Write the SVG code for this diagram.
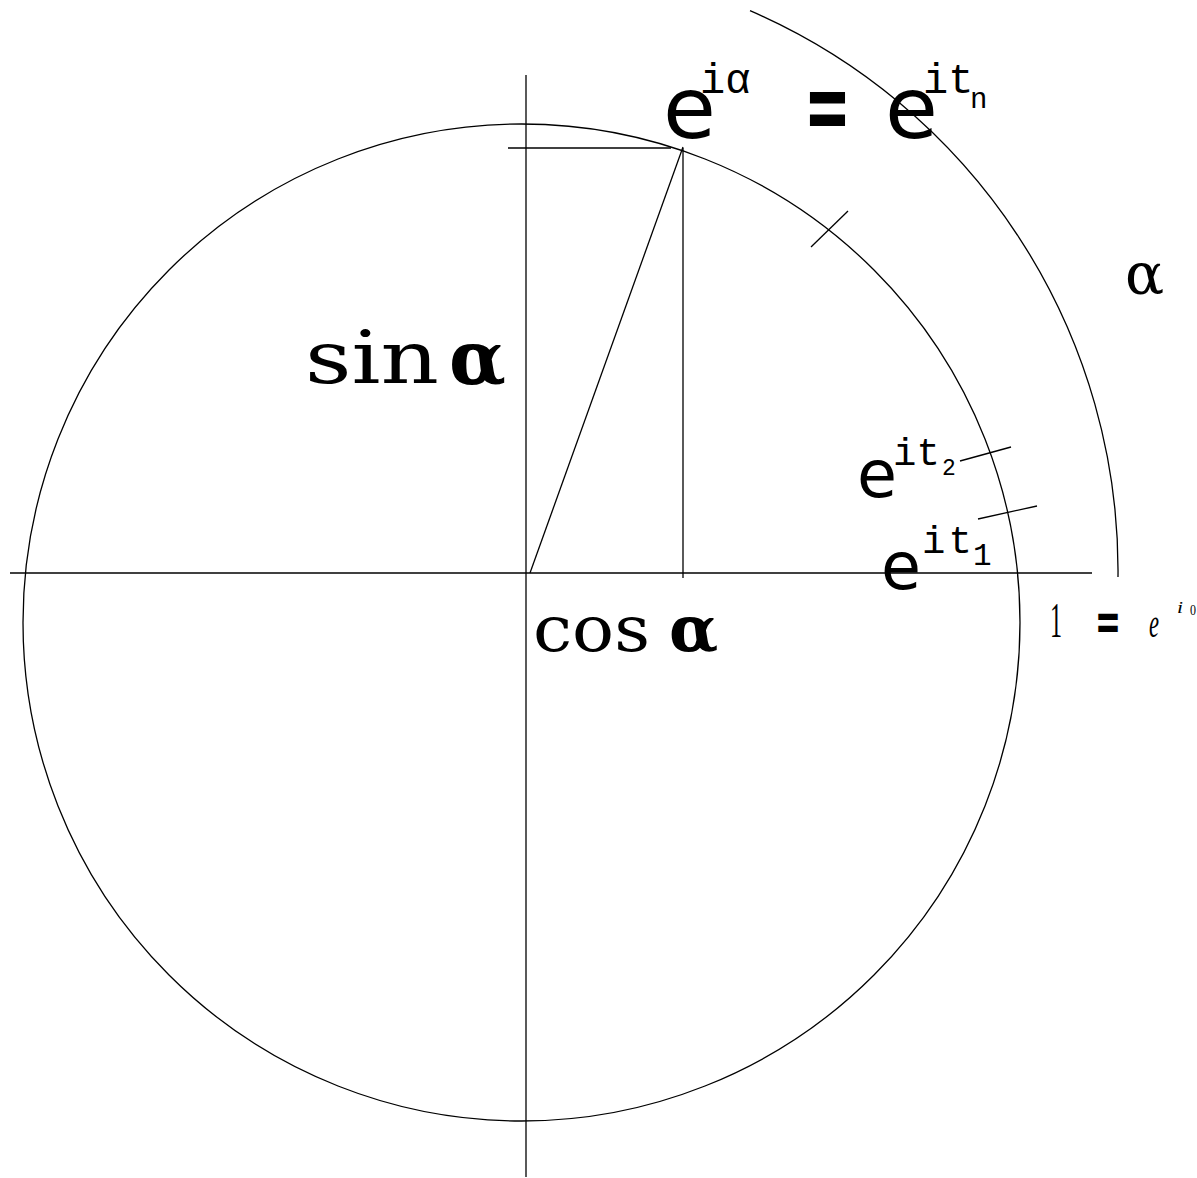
<svg xmlns="http://www.w3.org/2000/svg" width="1197" height="1178" viewBox="0 0 1197 1178">
<style>
.ln{stroke:#000;stroke-width:1.3;fill:none}
.sans{font-family:"DejaVu Sans",sans-serif;fill:#000}
.mono{font-family:"Liberation Mono",monospace;fill:#000}
.serif{font-family:"DejaVu Serif",serif;fill:#000}
.bold{font-weight:bold}
.times{font-family:"Liberation Serif",serif;fill:#000}
</style>
<rect width="1197" height="1178" fill="#fff"/>
<g id="connectors">
<circle class="ln" cx="521.5" cy="622.5" r="498.5"/>
<line class="ln" x1="10" y1="573" x2="1092" y2="573"/>
<line class="ln" x1="526" y1="75" x2="526" y2="1177"/>
<path class="ln" d="M750,10.7 A610,610 0 0 1 1118,577"/>
<line class="ln" x1="530" y1="573" x2="683" y2="147"/>
<line class="ln" x1="683" y1="148" x2="683" y2="578"/>
<line class="ln" x1="508" y1="148" x2="671" y2="148"/>
<line class="ln" x1="811" y1="247" x2="848" y2="211"/>
<line class="ln" x1="960" y1="461" x2="1011" y2="447"/>
<line class="ln" x1="978" y1="519" x2="1037" y2="506"/>
</g>
<g id="label-eialpha">
<text class="sans" x="663" y="138" font-size="86">e</text>
<text class="mono" x="700" y="93" font-size="42">iα</text>
</g>
<g id="label-equals">
<text class="sans bold" x="804" y="140" font-size="100" textLength="47" lengthAdjust="spacingAndGlyphs">=</text>
</g>
<g id="label-eitn">
<text class="sans" x="885" y="138" font-size="86">e</text>
<text class="mono" x="923" y="93" font-size="42">it</text>
<text class="mono" x="970" y="108" font-size="29">n</text>
</g>
<g id="label-sin">
<text class="serif" x="305" y="383" font-size="73" textLength="134" lengthAdjust="spacingAndGlyphs">sin</text>
<text class="serif bold" x="449" y="384" font-size="74">α</text>
</g>
<g id="label-cos">
<text class="serif" x="533" y="651" font-size="64" textLength="117" lengthAdjust="spacingAndGlyphs">cos</text>
<text class="serif bold" x="669" y="651" font-size="64">α</text>
</g>
<g id="label-alpha">
<text class="serif" x="1125" y="294" font-size="58">α</text>
</g>
<g id="label-eit2">
<text class="sans" x="857" y="497" font-size="65">e</text>
<text class="mono" x="893" y="465" font-size="39">it</text>
<text class="mono" x="942" y="475" font-size="23">2</text>
</g>
<g id="label-eit1">
<text class="sans" x="881" y="589" font-size="65">e</text>
<text class="mono" x="922" y="553" font-size="39" letter-spacing="3">it</text>
<text class="mono" x="973" y="565" font-size="31">1</text>
</g>
<g id="label-one">
<text class="times" x="1050" y="637" font-size="50" textLength="12" lengthAdjust="spacingAndGlyphs">1</text>
<text class="sans bold" x="1095" y="640" font-size="53" textLength="26" lengthAdjust="spacingAndGlyphs">=</text>
<text class="times" x="1149" y="637" font-size="41" font-style="italic" textLength="10" lengthAdjust="spacingAndGlyphs">e</text>
<text class="times" x="1177" y="613" font-size="16" font-style="italic" textLength="6" lengthAdjust="spacingAndGlyphs">i</text>
<text class="times" x="1190" y="615" font-size="15" fill="#555" textLength="6" lengthAdjust="spacingAndGlyphs">0</text>
</g>
</svg>
